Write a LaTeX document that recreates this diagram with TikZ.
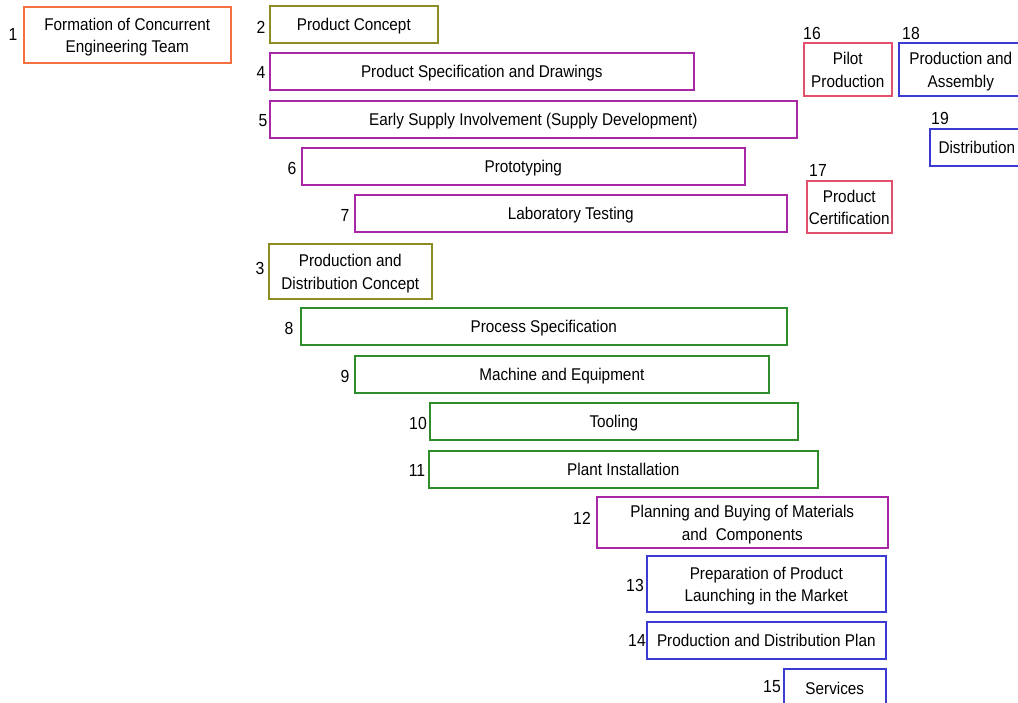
\documentclass[tikz,border=0pt]{standalone}
\usepackage{fontspec}
\setmainfont{Liberation Sans}[FakeStretch=0.9]
\definecolor{corange}{HTML}{F4703E}
\definecolor{colive}{HTML}{8C8C22}
\definecolor{cpurple}{HTML}{A827A6}
\definecolor{cgreen}{HTML}{2F8C2A}
\definecolor{cblue}{HTML}{3B3BD2}
\definecolor{cred}{HTML}{E2506C}
\tikzset{
  box/.style={draw, line width=1.6pt, rectangle, anchor=north west, inner sep=0pt},
  txt/.style={inner sep=0pt, align=center, font=\fontsize{17}{22.5}\selectfont, text=black},
  num/.style={inner sep=0pt, font=\fontsize{17.5}{18}\selectfont, text=black},
}
\newcommand\mybox[7]{%
  \node[box, draw=#6, minimum width=#3pt-#1pt, minimum height=#4pt-#2pt] (#5) at (#1,#2) {};
  \node[txt] (#5t) at ([yshift=-2pt]#5.center) {\strut #7\strut};}
\begin{document}
\begin{tikzpicture}[x=1pt,y=-1pt]
\useasboundingbox (0,0) rectangle (1018,703);
\begin{scope}
\clip (0,0) rectangle (1018,703);
\mybox{23}{6}{230}{62}{b1}{corange}{Formation of Concurrent\\Engineering Team}
\mybox{269}{5}{437}{42}{b2}{colive}{Product Concept}
\mybox{269}{52}{693}{89}{b4}{cpurple}{Product Specification and Drawings}
\mybox{269}{100}{796}{137}{b5}{cpurple}{Early Supply Involvement (Supply Development)}
\mybox{301}{147}{744}{184}{b6}{cpurple}{Prototyping}
\mybox{354}{194}{786}{231}{b7}{cpurple}{Laboratory Testing}
\mybox{268}{243}{431}{298}{b3}{colive}{Production and\\Distribution Concept}
\mybox{300}{307}{786}{344}{b8}{cgreen}{Process Specification}
\mybox{354}{355}{768}{392}{b9}{cgreen}{Machine and Equipment}
\mybox{429}{402}{797}{439}{b10}{cgreen}{Tooling}
\mybox{428}{450}{817}{487}{b11}{cgreen}{Plant Installation}
\mybox{596}{496}{887}{547}{b12}{cpurple}{Planning and Buying of Materials\\and\ \ Components}
\mybox{646}{555}{885}{611}{b13}{cblue}{Preparation of Product\\Launching in the Market}
\mybox{646}{621}{885}{658}{b14}{cblue}{Production and Distribution Plan}
\mybox{783}{668}{885}{706}{b15}{cblue}{Services}
\mybox{803}{42}{891}{95}{b16}{cred}{Pilot\\Production}
\mybox{806}{180}{891}{232}{b17}{cred}{Product\\Certification}
\mybox{898}{42}{1022}{95}{b18}{cblue}{Production and\\Assembly}
\mybox{929}{128}{1023}{165}{b19}{cblue}{Distribution}
\end{scope}
\node[num] (n1) at (13,34) {1};
\node[num] (n2) at (261,27) {2};
\node[num] (n4) at (261,72) {4};
\node[num] (n5) at (263,121) {5};
\node[num] (n6) at (292,168) {6};
\node[num] (n7) at (345,215) {7};
\node[num] (n3) at (260,268) {3};
\node[num] (n8) at (289,328) {8};
\node[num] (n9) at (345,376) {9};
\node[num] (n10) at (418,423) {10};
\node[num] (n11) at (417,470) {11};
\node[num] (n12) at (582,518) {12};
\node[num] (n13) at (635,585) {13};
\node[num] (n14) at (637,640) {14};
\node[num] (n15) at (772,687) {15};
\node[num] (n16) at (812,33) {16};
\node[num] (n17) at (818,170) {17};
\node[num] (n18) at (911,33) {18};
\node[num] (n19) at (940,118) {19};
\end{tikzpicture}
\end{document}
